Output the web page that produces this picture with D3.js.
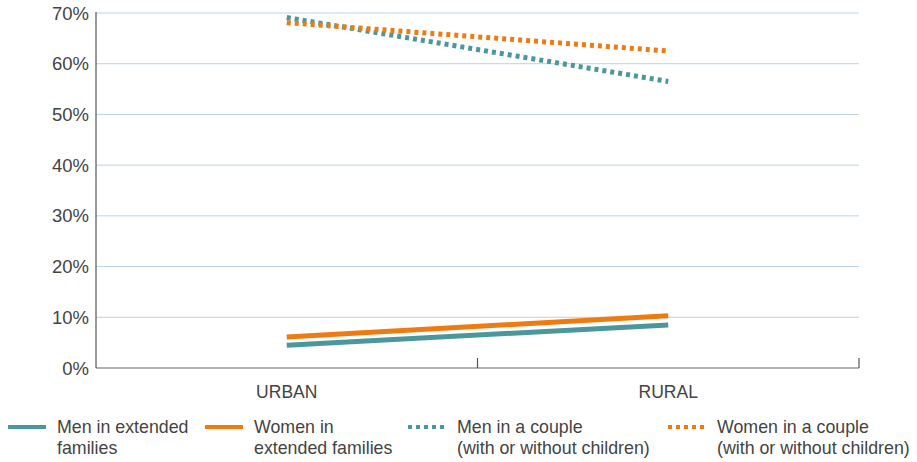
<!DOCTYPE html>
<html><head><meta charset="utf-8">
<script src="https://cdn.jsdelivr.net/npm/d3@7"></script>
<style>body{margin:0;background:#fff}svg{display:block;font-family:"Liberation Sans",Arial,sans-serif}</style>
</head><body><svg id="c" width="917" height="462"></svg>
<script>
const categories = ["URBAN", "RURAL"];
const seriesNames = ["Men in extended families","Women in extended families","Men in a couple (with or without children)","Women in a couple (with or without children)"];
const menExtended = [4.5, 8.5];
const womenExtended = [6.1, 10.3];
const menCouple = [69.1, 56.5];
const womenCouple = [68.1, 62.5];
const yTicks = [0,10,20,30,40,50,60,70];
const legendLines = [["Men in extended","families"],["Women in","extended families"],["Men in a couple","(with or without children)"],["Women in a couple","(with or without children)"]];

const teal = "#4a979d", orange = "#ee7b12";
const series = [
  {values: menExtended, color: teal, dash: null},
  {values: womenExtended, color: orange, dash: null},
  {values: menCouple, color: teal, dash: "4,4"},
  {values: womenCouple, color: orange, dash: "4,4"}
];
const svg = d3.select("#c");
const L = 96, R = 859, T = 13, B = 368;
const x = d3.scaleBand().domain(categories).range([L, R]);
const y = d3.scaleLinear().domain([0,70]).range([B, T]);

svg.append("g").selectAll("line").data(yTicks.filter(d=>d>0)).join("line")
  .attr("x1", L).attr("x2", R).attr("y1", d=>y(d)).attr("y2", d=>y(d))
  .attr("stroke", "#bcd2e8").attr("stroke-width", 1);

svg.append("g").selectAll("text").data(yTicks).join("text")
  .attr("x", 89).attr("y", d=>y(d)+6.5).attr("text-anchor","end")
  .attr("font-size", 18.5).attr("fill","#444").text(d=>d+"%");

svg.append("line").attr("x1",L).attr("x2",L).attr("y1",T-1).attr("y2",B).attr("stroke","#555").attr("stroke-width",1.2);
svg.append("line").attr("x1",L).attr("x2",R).attr("y1",B).attr("y2",B).attr("stroke","#666").attr("stroke-width",1.2);
const bounds = [x(categories[1]), R];
svg.append("g").selectAll("line").data(bounds).join("line")
  .attr("x1",d=>d).attr("x2",d=>d).attr("y1",B-10).attr("y2",B).attr("stroke","#555").attr("stroke-width",1.2);

svg.append("g").selectAll("text").data(categories).join("text")
  .attr("x", d=>x(d)+x.bandwidth()/2).attr("y", 398).attr("text-anchor","middle")
  .attr("font-size",17.5).attr("fill","#444").text(d=>d);

const line = d3.line().x((d,i)=>x(categories[i])+x.bandwidth()/2).y(d=>y(d));
series.forEach(s=>{
  svg.append("path").datum(s.values).attr("d", line).attr("fill","none")
    .attr("stroke", s.color).attr("stroke-width", 5)
    .attr("stroke-dasharray", s.dash);
});

const legX = [8, 205, 408, 668];
const lg = svg.append("g");
series.forEach((s,i)=>{
  lg.append("line").attr("x1",legX[i]).attr("x2",legX[i]+38).attr("y1",427).attr("y2",427)
    .attr("stroke",s.color).attr("stroke-width",4).attr("stroke-dasharray",s.dash);
  const t = lg.append("text").attr("x",legX[i]+49).attr("y",433).attr("font-size",17.8).attr("fill","#444");
  legendLines[i].forEach((ln,j)=>t.append("tspan").attr("x",legX[i]+49).attr("dy", j?21:0).text(ln));
});
</script></body></html>
